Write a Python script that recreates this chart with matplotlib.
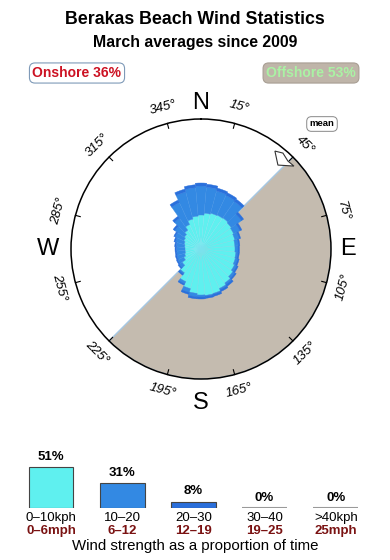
import matplotlib
matplotlib.use("Agg")
import matplotlib.pyplot as plt
import numpy as np
from matplotlib.patches import Polygon
from matplotlib.transforms import IdentityTransform

# ---------------- data ----------------
title = "Berakas Beach Wind Statistics"
subtitle = "March averages since 2009"
onshore_pct = 36
offshore_pct = 53
offshore_start, offshore_end = 45, 225   # degrees (compass) of offshore sector
mean_dir = 45

directions = list(range(0, 360, 10))
# rose radial values per direction (rose scale units, circle edge = 130)
band_0_10 = [34, 36, 37, 37.5, 38, 37, 36, 35, 34, 34, 35, 35.5, 37, 39, 41.5, 43.5, 46, 46.5,
             46, 44.5, 41, 36, 29, 23, 19, 17, 16, 16, 16.5, 17.5, 19, 20.5, 23, 27, 31, 33]
band_10_20 = [29, 26, 23, 21.5, 20, 12.5, 7, 4.5, 3.5, 3, 2, 2.5, 2.5, 2.5, 2, 1.5, 1, 1,
              2, 3.5, 4, 2.5, 1.5, 3.5, 6.5, 8, 8.5, 8.5, 8.5, 9, 9.5, 11.5, 14.5, 24, 28, 28.5]
band_20_30 = [3, 3, 3, 3, 3, 2.5, 2, 1.5, 1.5, 1.5, 1.5, 1.5, 1.5, 1.5, 2, 2, 2, 2,
              2, 2, 2, 1.5, 1.5, 1.5, 1.5, 1.5, 1.5, 1.5, 1.5, 1.5, 1.5, 2, 2.5, 3, 3, 3]
RMAX = 130

tick_angles = [15, 45, 75, 105, 135, 165, 195, 225, 255, 285, 315, 345]
cardinals = ["N", "E", "S", "W"]
cardinal_angles = [0, 90, 180, 270]

speed_pct = [51, 31, 8, 0, 0]
kph_labels = ["0\u201310kph", "10\u201320", "20\u201330", "30\u201340", ">40kph"]
mph_labels = ["0\u20136mph", "6\u201312", "12\u201319", "19\u201325", "25mph"]
bar_colors = ["#5ff0ef", "#3389e3", "#2a6fdb", "#ffffff", "#ffffff"]

# ---------------- figure ----------------
plt.rcParams["font.family"] = ["Liberation Sans", "DejaVu Sans"]
W, H = 390, 560
fig = plt.figure(figsize=(W / 100, H / 100), dpi=100)
fig.patch.set_facecolor("white")

def fx(x):
    return x / W

def fy(y):
    return 1 - y / H

fig.text(fx(195), fy(19), title, ha="center", va="center", fontsize=12.8, fontweight="bold")
fig.text(fx(195), fy(42), subtitle, ha="center", va="center", fontsize=11.4, fontweight="bold")

fig.text(fx(77), fy(73), f"Onshore {onshore_pct}%", ha="center", va="center", fontsize=10,
         fontweight="bold", color="#cc1122",
         bbox=dict(boxstyle="round,pad=0.22,rounding_size=0.4", fc="white", ec="#7f9ab8", lw=0.8))
fig.text(fx(311), fy(73), f"Offshore {offshore_pct}%", ha="center", va="center", fontsize=10,
         fontweight="bold", color="#aaf2a4",
         bbox=dict(boxstyle="round,pad=0.22,rounding_size=0.4", fc="#bfb5a9", ec="#a89f94", lw=0.8))

# ---------------- polar rose ----------------
cx, cy, R = 201, 249, 130
ax = fig.add_axes([(cx - R) / W, 1 - (cy + R) / H, 2 * R / W, 2 * R / H], projection="polar")
ax.set_theta_zero_location("N")
ax.set_theta_direction(-1)
ax.set_ylim(0, RMAX)
ax.set_xticks([])
ax.set_yticks([])
ax.grid(False)
ax.spines["polar"].set_linewidth(1.1)
ax.set_facecolor("white")

# offshore sector
ax.bar(np.deg2rad((offshore_start + offshore_end) / 2), RMAX,
       width=np.deg2rad(offshore_end - offshore_start), bottom=0,
       color="#c4bbaf", edgecolor="#a6c8e4", linewidth=1.0, zorder=1)

theta = np.deg2rad(directions)
wd = np.deg2rad(10)
b1 = np.array(band_0_10)
b2 = np.array(band_10_20)
b3 = np.array(band_20_30)
ax.bar(theta, b1, width=wd, bottom=0, color="#5ff0ef", edgecolor="#80e2ee", linewidth=0.3, zorder=3)
ax.bar(theta, b2, width=wd, bottom=b1, color="#3389e3", edgecolor="#3d8fe4", linewidth=0.3, zorder=3)
ax.bar(theta, b3, width=wd, bottom=b1 + b2, color="#2a70dc", edgecolor="#2a70dc", linewidth=0.3, zorder=3)

# ticks and labels
for a in tick_angles:
    t = np.deg2rad(a)
    ax.plot([t, t], [RMAX - 5, RMAX], color="black", lw=0.8, zorder=4, clip_on=False)
    rot = 180 - a if 90 < a < 270 else -a
    ax.text(t, RMAX * 1.13, f"{a}\u00b0", rotation=rot, rotation_mode="anchor",
            ha="center", va="center", fontsize=9.5, style="italic")

cardinal_r = [1.12, 1.13, 1.185, 1.175]
for lab, a, rr in zip(cardinals, cardinal_angles, cardinal_r):
    ax.text(np.deg2rad(a), RMAX * rr, lab, ha="center", va="center", fontsize=17)

# mean arrow
fig.canvas.draw()
axp, ayp = ax.transData.transform((np.deg2rad(mean_dir), RMAX))
shape = [(-18, -6), (-15, 8), (1, 9), (-5, 4), (-10, -4)]
verts = [(axp + dx, ayp - dy) for dx, dy in shape]
fig.patches.append(Polygon(verts, closed=True, transform=IdentityTransform(),
                           fc="white", ec="#333333", lw=0.8, zorder=10))
fig.text(fx(322), fy(124), "mean", ha="center", va="center", fontsize=6.8, fontweight="bold",
         bbox=dict(boxstyle="round,pad=0.3,rounding_size=0.5", fc="white", ec="#888888", lw=0.7))

# ---------------- speed bars ----------------
axb = fig.add_axes([15.4 / W, 1 - 508 / H, 356 / W, 44 / H])
axb.set_xlim(-0.5, 4.5)
axb.set_ylim(0, 55)
axb.axis("off")
edges = ["#444444" if v > 0 else "#9a9a9a" for v in speed_pct]
lws = [0.8 if v > 0 else 1.5 for v in speed_pct]
axb.bar(range(len(speed_pct)), speed_pct, width=0.63, color=bar_colors,
        edgecolor=edges, linewidth=lws)
for i, v in enumerate(speed_pct):
    axb.annotate(f"{v}%", (i, v), xytext=(0, 3), textcoords="offset points",
                 ha="center", va="bottom", fontsize=9.5, fontweight="bold", annotation_clip=False)
    axb.annotate(kph_labels[i], (i, 0), xytext=(0, -7.5), textcoords="offset points",
                 ha="center", va="center", fontsize=9.5, annotation_clip=False)
    axb.annotate(mph_labels[i], (i, 0), xytext=(0, -16.5), textcoords="offset points",
                 ha="center", va="center", fontsize=9.5, fontweight="bold", color="#7a1212",
                 annotation_clip=False)

fig.text(fx(195), fy(546), "Wind strength as a proportion of time", ha="center", va="center",
         fontsize=10.8)

fig.savefig("out.png", dpi=100)
